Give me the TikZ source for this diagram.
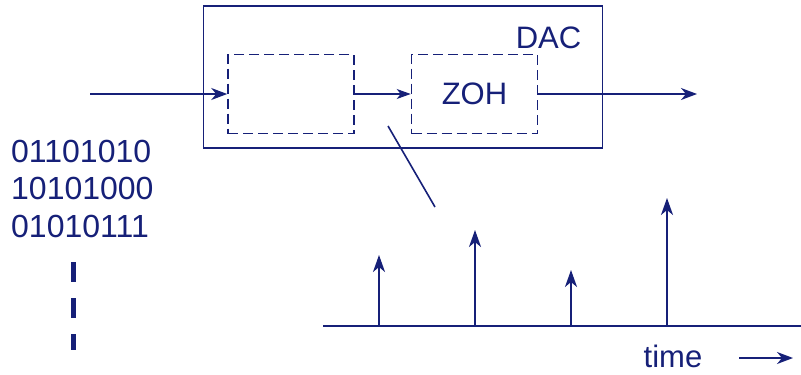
\documentclass[tikz,border=0pt]{standalone}
\usepackage{fontspec}
\setmainfont{Liberation Sans}
\usetikzlibrary{arrows.meta}
\definecolor{navy}{RGB}{22,32,120}
\begin{document}
\begin{tikzpicture}[x=1pt,y=-1pt,
  txt/.style={inner sep=0pt,text=navy,font=\fontsize{31}{37}\selectfont},
  bintxt/.style={inner sep=0pt,text=navy,font=\fontsize{32}{37}\selectfont},
  dbox/.style={draw=navy,line width=1.6pt,dash pattern=on 10pt off 5pt,minimum width=126pt,minimum height=79pt,inner sep=0pt,text=navy,font=\fontsize{31}{37}\selectfont},
  arr/.style={draw=navy,line width=1.6pt,-{Stealth[length=16pt,width=12pt,inset=5pt]}},
  sarr/.style={draw=navy,line width=1.2pt,-{Stealth[length=14pt,width=10pt,inset=4pt]}},
  stem/.style={draw=navy,line width=2pt,-{Stealth[length=17pt,width=12pt,inset=5pt]}}]
\useasboundingbox (0,0) rectangle (801,375);
% DAC box
\node[draw=navy,line width=1.6pt,minimum width=399pt,minimum height=142pt,inner sep=0pt] (dac) at (403,77) {};
\node[txt,anchor=base] (daclabel) at (548.5,48) {DAC};
\node[dbox] (b1) at (291,94) {};
\node[dbox] (b2) at (474.5,94) {ZOH};
\coordinate (in) at (90,94);
\coordinate (out) at (697,94);
\draw[arr] (in) -- (b1.west);
\draw[sarr] (b1.east) -- (b2.west);
\draw[arr] (b2.east) -- (out);
% pointer line
\coordinate (d1) at (388,126);
\coordinate (d2) at (435,207);
\draw[draw=navy,line width=1.6pt] (d1) -- (d2);
% binary words
\node[bintxt,anchor=base west] (bin1) at (11,162) {01101010};
\node[bintxt,anchor=base west] (bin2) at (11,199.5) {10101000};
\node[bintxt,anchor=base west] (bin3) at (11,237) {01010111};
\coordinate (v1) at (73,262);
\coordinate (v2) at (73,350);
\draw[draw=navy,line width=5pt,dash pattern=on 20pt off 16pt] (v1) -- (v2);
% impulses
\coordinate (t0) at (323,326);
\coordinate (t1) at (801,326);
\draw[draw=navy,line width=2pt] (t0) -- (t1);
\coordinate (s1) at (379,326); \coordinate (s1t) at (379,255);
\coordinate (s2) at (475,326); \coordinate (s2t) at (475,230);
\coordinate (s3) at (571,326); \coordinate (s3t) at (571,270);
\coordinate (s4) at (667,326); \coordinate (s4t) at (667,198);
\draw[stem] (s1) -- (s1t);
\draw[stem] (s2) -- (s2t);
\draw[stem] (s3) -- (s3t);
\draw[stem] (s4) -- (s4t);
% time label
\node[txt,anchor=base] (time) at (673,367) {time};
\coordinate (ta) at (739,358);
\coordinate (tb) at (793,358);
\draw[arr] (ta) -- (tb);
\end{tikzpicture}
\end{document}
